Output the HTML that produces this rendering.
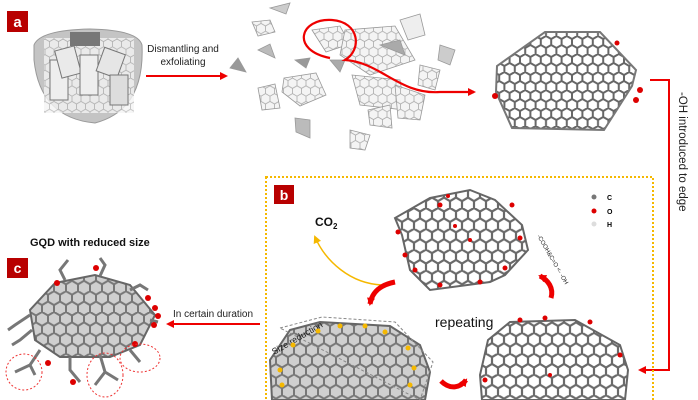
<!DOCTYPE html>
<html><head><meta charset="utf-8"><style>
html,body{margin:0;padding:0;background:#fff;}
svg{display:block;font-family:"Liberation Sans",sans-serif;}
</style></head><body>
<svg width="698" height="400" viewBox="0 0 698 400" xmlns="http://www.w3.org/2000/svg">
<defs>
<pattern id="hx" width="10.4" height="18" patternUnits="userSpaceOnUse">
<rect width="10.4" height="18" fill="#fff"/>
<path d="M0,3 L5.2,0 L10.4,3 M0,3 L0,9 L5.2,12 L10.4,9 L10.4,3 M5.2,12 L5.2,18" fill="none" stroke="#666" stroke-width="2"/>
</pattern>
<pattern id="hx2" width="12" height="20.8" patternUnits="userSpaceOnUse">
<rect width="12" height="20.8" fill="#fff"/>
<path d="M0,3.5 L6,0 L12,3.5 M0,3.5 L0,10.4 L6,13.9 L12,10.4 L12,3.5 M6,13.9 L6,20.8" fill="none" stroke="#6a6a6a" stroke-width="2.2"/>
</pattern>
<pattern id="hxg" width="12" height="20.8" patternUnits="userSpaceOnUse">
<rect width="12" height="20.8" fill="#cfcfcf"/>
<path d="M0,3.5 L6,0 L12,3.5 M0,3.5 L0,10.4 L6,13.9 L12,10.4 L12,3.5 M6,13.9 L6,20.8" fill="none" stroke="#777" stroke-width="2"/>
</pattern>
<pattern id="hxl" width="9" height="15.6" patternUnits="userSpaceOnUse">
<rect width="9" height="15.6" fill="#f4f4f4"/>
<path d="M0,2.6 L4.5,0 L9,2.6 M0,2.6 L0,7.8 L4.5,10.4 L9,7.8 L9,2.6 M4.5,10.4 L4.5,15.6" fill="none" stroke="#aaa" stroke-width="0.8"/>
</pattern>
<marker id="ar" markerWidth="8" markerHeight="8" refX="6" refY="4" orient="auto" markerUnits="userSpaceOnUse"><path d="M0,0 L8,4 L0,8 Z" fill="#e00"/></marker>
<marker id="ay" markerWidth="8" markerHeight="8" refX="6" refY="4" orient="auto" markerUnits="userSpaceOnUse"><path d="M0,0 L8,4 L0,8 Z" fill="#f5b800"/></marker>
</defs>

<rect x="7" y="11" width="21" height="21" fill="#b80000"/>
<text x="17.5" y="27" font-size="15" font-weight="bold" fill="#fff" text-anchor="middle">a</text>

<path d="M34,45 Q40,30 90,29 Q138,30 142,45 Q145,110 95,123 Q40,118 34,60 Z" fill="#c4c4c4" stroke="#999"/>
<rect x="44" y="38" width="90" height="75" fill="url(#hxl)" opacity="0.8"/>
<rect x="50" y="60" width="18" height="40" fill="#eee" stroke="#777"/>
<rect x="58" y="48" width="20" height="28" fill="#eaeaea" stroke="#777" transform="rotate(-15 68 62)"/>
<rect x="80" y="55" width="18" height="40" fill="#eee" stroke="#777"/>
<rect x="100" y="50" width="22" height="25" fill="#e6e6e6" stroke="#777" transform="rotate(20 110 62)"/>
<rect x="110" y="75" width="18" height="30" fill="#ddd" stroke="#777"/>
<rect x="70" y="32" width="30" height="14" fill="#777"/>

<text x="183" y="52" font-size="10" text-anchor="middle" fill="#222">Dismantling and</text>
<text x="183" y="65" font-size="10" text-anchor="middle" fill="#222">exfoliating</text>
<line x1="146" y1="76" x2="226" y2="76" stroke="#e00" stroke-width="2" marker-end="url(#ar)"/>

<g fill="#eee" stroke="#999" stroke-width="0.8">
<polygon points="230,68 238,58 246,72" fill="#999"/>
<polygon points="284,78 316,73 326,95 300,106 282,92" fill="url(#hxl)"/>
<polygon points="312,30 340,26 350,44 326,52" fill="url(#hxl)"/>
<polygon points="345,30 395,26 415,60 370,75 340,55" fill="url(#hxl)"/>
<polygon points="352,75 400,80 405,110 360,105" fill="url(#hxl)"/>
<polygon points="258,88 275,84 280,108 262,110" fill="url(#hxl)"/>
<polygon points="295,118 310,120 310,138 296,132" fill="#bbb"/>
<polygon points="252,22 270,20 275,32 258,36" fill="url(#hxl)"/>
<polygon points="395,85 425,95 420,120 398,118" fill="url(#hxl)"/>
<polygon points="368,110 390,105 392,128 370,125" fill="url(#hxl)"/>
<polygon points="400,20 420,14 425,35 408,40"/>
<polygon points="258,50 270,44 275,58" fill="#bbb"/>
<polygon points="330,60 345,60 340,72" fill="#aaa"/>
<polygon points="440,45 455,50 450,65 438,60" fill="#ccc"/>
<polygon points="420,65 440,70 435,90 418,85" fill="url(#hxl)"/>
<polygon points="350,130 370,135 365,150 350,148" fill="url(#hxl)"/>
<polygon points="270,8 290,3 286,14" fill="#ccc"/>
<polygon points="295,60 310,58 306,68" fill="#999"/>
<polygon points="380,45 400,40 405,55" fill="#aaa"/>
</g>
<path d="M330,58 C290,50 300,18 332,20 C360,22 362,50 345,60 C380,62 400,95 440,92 L474,92" fill="none" stroke="#e00" stroke-width="2.2" marker-end="url(#ar)"/>

<polygon points="545,32 600,32 636,70 632,86 604,130 512,128 496,92 497,66" fill="url(#hx)" stroke="#777" stroke-width="2"/>
<circle cx="495" cy="96" r="3" fill="#d00"/>
<circle cx="640" cy="90" r="3" fill="#d00"/><circle cx="636" cy="100" r="3" fill="#d00"/>
<circle cx="617" cy="43" r="2.5" fill="#d00"/>

<polyline points="650,80 669,80 669,370 640,370" fill="none" stroke="#e00" stroke-width="2" marker-end="url(#ar)"/>
<text transform="translate(679,92) rotate(90)" font-size="11.5" fill="#222">-OH introduced to edge</text>

<rect x="266" y="177" width="387" height="240" fill="none" stroke="#f5b800" stroke-width="2" stroke-dasharray="2,2"/>
<rect x="274" y="185" width="20" height="19" fill="#b80000"/>
<text x="284" y="200" font-size="14" font-weight="bold" fill="#fff" text-anchor="middle">b</text>
<text x="315" y="226" font-size="12" font-weight="bold" fill="#111">CO<tspan font-size="8" dy="3">2</tspan></text>
<path d="M385,285 C350,285 325,260 315,237" fill="none" stroke="#f5b800" stroke-width="1.5" marker-end="url(#ay)"/>

<circle cx="594" cy="197" r="2.5" fill="#777"/><text x="607" y="200" font-size="7" font-weight="bold">C</text>
<circle cx="594" cy="211" r="2.5" fill="#d00"/><text x="607" y="214" font-size="7" font-weight="bold">O</text>
<circle cx="594" cy="224" r="2.5" fill="#ddd"/><text x="607" y="227" font-size="7" font-weight="bold">H</text>

<polygon points="430,198 470,190 495,200 522,225 528,250 505,275 490,282 430,290 410,270 402,235 395,218" fill="url(#hx2)" stroke="#666" stroke-width="2"/>
<g fill="#d00">
<circle cx="398" cy="232" r="2.5"/><circle cx="405" cy="255" r="2.5"/><circle cx="415" cy="270" r="2.5"/><circle cx="440" cy="285" r="2.5"/>
<circle cx="480" cy="282" r="2.5"/><circle cx="505" cy="268" r="2.5"/><circle cx="520" cy="238" r="2.5"/><circle cx="512" cy="205" r="2.5"/>
<circle cx="440" cy="205" r="2.5"/><circle cx="470" cy="240" r="2"/><circle cx="455" cy="226" r="2"/><circle cx="448" cy="196" r="2"/>
</g>
<text transform="translate(537,236) rotate(60)" font-size="6" fill="#222">-COOH&amp;C=O &lt;- -OH</text>
<path d="M551,298 C554,288 548,280 540,276" fill="none" stroke="#e00" stroke-width="5" marker-end="url(#ar)"/>
<path d="M395,282 C380,285 372,292 370,304" fill="none" stroke="#e00" stroke-width="5" marker-end="url(#ar)"/>
<text x="435" y="327" font-size="14" fill="#111">repeating</text>

<polygon points="290,330 320,322 390,326 420,345 430,372 425,400 272,400 270,360" fill="url(#hxg)" stroke="#666" stroke-width="2"/>
<polygon points="280,328 322,317 395,322 433,362 420,400" fill="none" stroke="#888" stroke-dasharray="3,2"/>
<text transform="translate(274,355) rotate(-30)" font-size="9" fill="#222">Size reduction</text>
<g fill="#f5b800">
<circle cx="318" cy="331" r="2.5"/><circle cx="340" cy="326" r="2.5"/><circle cx="365" cy="326" r="2.5"/><circle cx="385" cy="332" r="2.5"/>
<circle cx="408" cy="348" r="2.5"/><circle cx="414" cy="368" r="2.5"/><circle cx="410" cy="385" r="2.5"/><circle cx="293" cy="345" r="2.5"/>
<circle cx="280" cy="370" r="2.5"/><circle cx="282" cy="385" r="2.5"/>
</g>
<path d="M441,381 C450,390 460,388 466,380" fill="none" stroke="#e00" stroke-width="5" marker-end="url(#ar)"/>

<polygon points="510,322 575,320 620,345 628,370 625,400 482,400 480,375 488,340" fill="url(#hx2)" stroke="#666" stroke-width="2"/>
<g fill="#d00"><circle cx="520" cy="320" r="2.5"/><circle cx="545" cy="318" r="2.5"/><circle cx="590" cy="322" r="2.5"/><circle cx="620" cy="355" r="2.5"/><circle cx="485" cy="380" r="2.5"/><circle cx="550" cy="375" r="2"/></g>

<text x="30" y="246" font-size="11" font-weight="bold" fill="#111">GQD with reduced size</text>
<rect x="7" y="258" width="21" height="20" fill="#b80000"/>
<text x="17.5" y="273" font-size="14" font-weight="bold" fill="#fff" text-anchor="middle">c</text>
<polygon points="55,283 95,275 130,285 155,315 140,345 110,357 60,357 35,340 30,310" fill="url(#hxg)" stroke="#666" stroke-width="2"/>
<g stroke="#777" stroke-width="3" fill="none">
<path d="M30,315 L15,325 L8,330 M32,330 L20,340 L12,345"/>
<path d="M40,350 L30,365 L15,372 M30,365 L35,375"/>
<path d="M70,357 L70,370 L80,382 M100,355 L105,372 L95,385 M105,372 L118,380"/>
<path d="M130,350 L140,362 M65,280 L60,270 L68,260 M100,276 L105,265 L100,258"/>
<path d="M150,320 L158,322 M130,290 L140,285 L148,290"/>
</g>
<g fill="#d00"><circle cx="48" cy="363" r="3"/><circle cx="73" cy="382" r="3"/><circle cx="135" cy="344" r="3"/><circle cx="155" cy="308" r="3"/><circle cx="158" cy="316" r="3"/><circle cx="154" cy="325" r="3"/><circle cx="96" cy="268" r="3"/><circle cx="57" cy="283" r="3"/><circle cx="148" cy="298" r="3"/></g>
<g fill="none" stroke="#e33" stroke-dasharray="2,2">
<ellipse cx="24" cy="372" rx="18" ry="18"/><ellipse cx="105" cy="375" rx="18" ry="22"/><ellipse cx="140" cy="358" rx="20" ry="14"/>
</g>
<text x="173" y="317" font-size="10" fill="#222">In certain duration</text>
<line x1="260" y1="324" x2="168" y2="324" stroke="#e00" stroke-width="2" marker-end="url(#ar)"/>
</svg>
</body></html>
